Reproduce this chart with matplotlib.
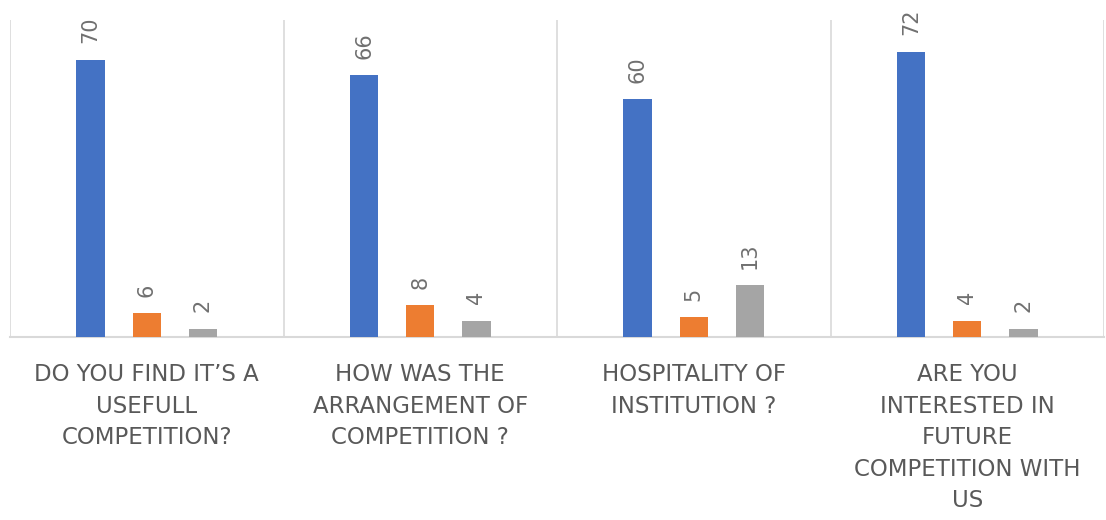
import numpy as np
import matplotlib
matplotlib.use('Agg')
import matplotlib.pyplot as plt

categories = [
    "DO YOU FIND IT’S A\nUSEFULL\nCOMPETITION?",
    "HOW WAS THE\nARRANGEMENT OF\nCOMPETITION ?",
    "HOSPITALITY OF\nINSTITUTION ?",
    "ARE YOU\nINTERESTED IN\nFUTURE\nCOMPETITION WITH\nUS",
]
series_1 = [70, 66, 60, 72]
series_2 = [6, 8, 5, 4]
series_3 = [2, 4, 13, 2]
colors = ['#4472C4', '#ED7D31', '#A5A5A5']

plt.rcParams['font.family'] = ['DejaVu Sans']

fig = plt.figure(figsize=(11.06, 5.2), dpi=100)
ax = fig.add_axes([10 / 1106, 183 / 520, 1094 / 1106, 317 / 520])

x = np.arange(len(categories))
offsets = [-0.205, 0.0, 0.205]
width = 0.104
for vals, off, col in zip([series_1, series_2, series_3], offsets, colors):
    bars = ax.bar(x + off, vals, width=width, color=col, zorder=3)
    for b, v in zip(bars, vals):
        ax.annotate(str(v), (b.get_x() + b.get_width() / 2, b.get_height()),
                    xytext=(0, 12), textcoords='offset points',
                    rotation=90, ha='center', va='bottom',
                    fontsize=15, color='#707070')

ax.set_xlim(-0.5, len(categories) - 0.5)
ax.set_ylim(0, 80)
ax.set_yticks([])

# separators between categories
for b in np.arange(-0.5, len(categories), 1.0):
    ax.axvline(b, color='#D9D9D9', linewidth=1.2, zorder=1)

for s in ['top', 'left', 'right']:
    ax.spines[s].set_visible(False)
ax.spines['bottom'].set_color('#D9D9D9')
ax.spines['bottom'].set_linewidth(1.5)

ax.set_xticks(x)
ax.set_xticklabels(categories, fontsize=16.5, color='#595959',
                   linespacing=1.47, ha='center', va='top')
ax.tick_params(axis='x', length=0, pad=19)

fig.savefig('out.png', dpi=100)
